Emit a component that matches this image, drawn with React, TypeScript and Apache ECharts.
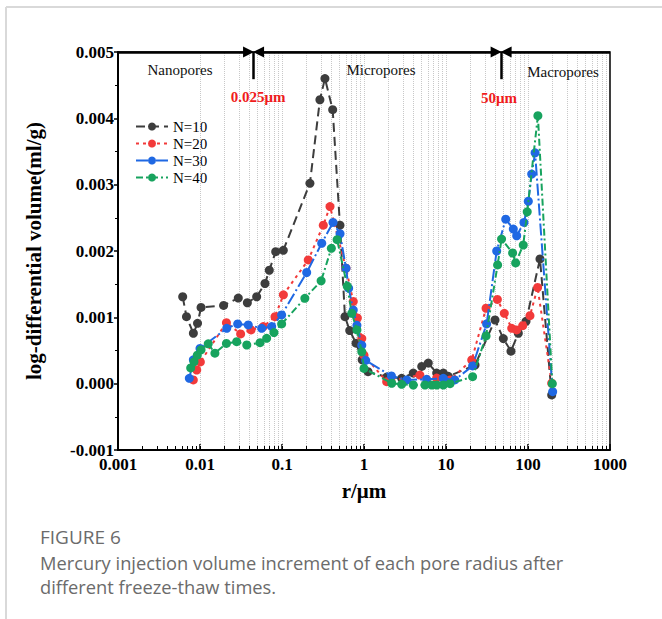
import React, { useEffect, useRef } from 'react';
import * as echarts from 'echarts';

// ---- data (r in μm, volume in ml/g) ----
const n10X = [0.00615, 0.00684, 0.0083, 0.00933, 0.0103, 0.0194, 0.0293, 0.0378, 0.0491, 0.062, 0.07, 0.0838, 0.1037, 0.219, 0.29, 0.334, 0.415, 0.509, 0.586, 0.67, 0.8, 0.95, 1.12, 1.89, 2.88, 3.99, 5.06, 6.08, 7.7, 9.27, 10.67, 22.6, 39.6, 50.0, 62.0, 76.2, 94.6, 140, 194.5];
const n10Y = [0.00131, 0.00101, 0.00076, 0.00091, 0.00115, 0.00118, 0.00129, 0.00122, 0.00131, 0.00151, 0.00171, 0.00199, 0.00201, 0.00302, 0.00428, 0.0046, 0.00413, 0.00239, 0.00101, 0.0008, 0.00061, 0.00036, 0.00018, 0.0001, 0.00008, 0.00016, 0.00026, 0.00031, 0.00016, 0.00016, 0.00011, 0.00028, 0.00096, 0.00068, 0.00049, 0.00076, 0.00094, 0.00188, -0.00017];

const n20X = [0.00829, 0.00912, 0.0101, 0.021, 0.0313, 0.0419, 0.0592, 0.0822, 0.104, 0.209, 0.319, 0.385, 0.603, 0.74, 0.83, 0.94, 1.0, 1.89, 4.8, 7.7, 11.2, 20.6, 30.8, 42.3, 51.4, 63.3, 72.8, 86.1, 105.7, 131, 194.5];
const n20Y = [0.000056, 0.000206, 0.000327, 0.00092, 0.00075, 0.00081, 0.00086, 0.00101, 0.00134, 0.001865, 0.00239, 0.00267, 0.00174, 0.00124, 0.00099, 0.00068, 0.00043, 0.00003, 0.00013, 0.000085, 0.000056, 0.000357, 0.001137, 0.00127, 0.00106, 0.000835, 0.00081, 0.000874, 0.001025, 0.00145, 0.000006];

const n30X = [0.00741, 0.0083, 0.01, 0.0212, 0.0288, 0.0388, 0.0565, 0.0748, 0.099, 0.2, 0.305, 0.419, 0.51, 0.603, 0.65, 0.74, 0.82, 0.94, 1.05, 2.16, 3.33, 5.8, 9.27, 12.8, 21.1, 31.3, 41.5, 53.5, 66.2, 72.8, 89.3, 100.9, 111, 122, 200];
const n30Y = [0.00008, 0.00036, 0.00053, 0.000835, 0.0009, 0.000885, 0.000835, 0.00086, 0.001036, 0.001676, 0.002117, 0.00243, 0.00226, 0.00174, 0.00144, 0.00111, 0.00088, 0.00058, 0.00035, 0.000116, 0.000056, 0.000066, 0.00008, 0.000056, 0.000267, 0.0009, 0.002, 0.00248, 0.00233, 0.00223, 0.00243, 0.00275, 0.00316, 0.00348, -0.00012];

const n40X = [0.0077, 0.00845, 0.00927, 0.0103, 0.0126, 0.0152, 0.021, 0.028, 0.0372, 0.054, 0.065, 0.0798, 0.099, 0.19, 0.3, 0.4, 0.47, 0.625, 0.71, 0.82, 0.94, 1.0, 2.18, 2.88, 3.99, 5.54, 6.7, 7.7, 9.27, 11.2, 21.1, 30.8, 42.6, 47.6, 64.9, 70.7, 87.5, 97.8, 132, 198];
const n40Y = [0.000237, 0.00033, 0.00043, 0.00051, 0.0006, 0.00046, 0.000606, 0.000633, 0.000583, 0.000618, 0.000684, 0.00077, 0.0009, 0.001287, 0.00155, 0.00204, 0.00217, 0.00147, 0.00106, 0.00081, 0.00048, 0.00023, 0.000006, -0.00001, -0.00002, -0.00002, -0.00002, -0.00002, -0.00002, 0.0, 0.000105, 0.00072, 0.00179, 0.00218, 0.00197, 0.00182, 0.00209, 0.00259, 0.00404, 0.0];

const seriesNames = ['N=10', 'N=20', 'N=30', 'N=40'];
const seriesColors = ['#3d3d3d', '#f23a3a', '#1f68e3', '#17a35e'];
const xTickLabels = ['0.001', '0.01', '0.1', '1', '10', '100', '1000'];
const yTickLabels = ['-0.001', '0.000', '0.001', '0.002', '0.003', '0.004', '0.005'];
const boundaryValues = [0.045, 47];
const boundaryLabels = ['0.025μm', '50μm'];
const classLabels = ['Nanopores', 'Micropores', 'Macropores'];

const SERIF = '"Liberation Serif", "Times New Roman", serif';
const SANS = '"Open Sans", "Noto Sans", sans-serif';

export default function App() {
  const ref = useRef<HTMLDivElement>(null);

  useEffect(() => {
    if (!ref.current) return;
    const chart = echarts.init(ref.current, undefined, { renderer: 'svg' });

    // log grid positions 1..9 x 10^k
    const gridVals: number[] = [];
    for (let k = -3; k <= 2; k++) {
      for (let m = 2; m <= 10; m++) {
        const v = Number((m * Math.pow(10, k)).toPrecision(3));
        if (v < 1000) gridVals.push(v);
      }
    }
    const arrowShift = Math.pow(10, 5 / 82);

    const dashes: any[] = [[9, 5], [3, 4], [12, 3, 2, 3], [7, 3, 2, 3]];
    const xs = [n10X, n20X, n30X, n40X];
    const ys = [n10Y, n20Y, n30Y, n40Y];

    const dataSeries = seriesNames.map((name, i) => ({
      type: 'line',
      name,
      data: xs[i].map((x, j) => [x, ys[i][j]]),
      symbol: 'circle',
      symbolSize: 9,
      itemStyle: { color: seriesColors[i] },
      lineStyle: { color: seriesColors[i], width: 2, type: dashes[i] },
      z: 10 + i,
    }));

    const option: any = {
      animation: false,
      backgroundColor: '#fff',
      grid: { left: 118, right: 52, top: 52, bottom: 169, show: true, borderColor: '#000', borderWidth: 1.5 },
      legend: {
        orient: 'vertical',
        left: 130,
        top: 114,
        itemWidth: 32,
        itemHeight: 10,
        itemGap: 2,
        data: seriesNames,
        textStyle: { fontFamily: SERIF, fontSize: 15, color: '#000', lineHeight: 15 },
      },
      xAxis: {
        type: 'log',
        logBase: 10,
        min: 0.001,
        max: 1000,
        name: 'r/μm',
        nameLocation: 'middle',
        nameGap: 30,
        nameTextStyle: { fontFamily: SERIF, fontWeight: 'bold', fontSize: 21, color: '#000' },
        axisLine: { show: true, onZero: false, lineStyle: { color: '#000', width: 2 } },
        axisTick: { show: true, inside: true, length: 6, lineStyle: { color: '#000', width: 1.5 } },
        splitLine: { show: false },
        axisLabel: {
          fontFamily: SERIF, fontWeight: 'bold', fontSize: 17, color: '#000', margin: 6,
          formatter: (v: number) => xTickLabels[Math.round(Math.log10(v)) + 3],
        },
      },
      yAxis: {
        type: 'value',
        min: -0.001,
        max: 0.005,
        interval: 0.001,
        name: 'log-differential volume(ml/g)',
        nameLocation: 'middle',
        nameGap: 74,
        nameTextStyle: { fontFamily: SERIF, fontWeight: 'bold', fontSize: 21, color: '#000' },
        axisLine: { show: true, onZero: false, lineStyle: { color: '#000', width: 2 } },
        axisTick: { show: true, inside: false, length: 4, lineStyle: { color: '#000', width: 1.5 } },
        minorTick: { show: true, splitNumber: 2, length: 3, lineStyle: { color: '#000' } },
        splitLine: { show: false },
        axisLabel: {
          fontFamily: SERIF, fontWeight: 'bold', fontSize: 17, color: '#000', margin: 4,
          formatter: (v: number) => yTickLabels[Math.round((v + 0.001) / 0.001)],
        },
      },
      series: [
        {
          type: 'line',
          data: [],
          silent: true,
          z: 1,
          markLine: {
            silent: true,
            symbol: 'none',
            label: { show: false },
            lineStyle: { type: 'dotted', color: '#c8c8c8', width: 1 },
            data: gridVals.map((v) => ({ xAxis: v })),
          },
        },
        {
          type: 'line',
          data: [],
          silent: true,
          z: 2,
          markLine: {
            silent: true,
            symbol: 'none',
            label: { show: false },
            lineStyle: { type: 'solid', color: '#000', width: 1 },
            data: gridVals.map((v) => [{ coord: [v, -0.001] }, { coord: [v, -0.00094] }]),
          },
        },
        ...dataSeries,
        {
          type: 'line',
          data: [],
          silent: true,
          z: 20,
          markLine: {
            silent: true,
            symbol: 'none',
            symbolSize: 11,
            label: { show: false },
            lineStyle: { type: 'solid', color: '#000', width: 2.5 },
            data: [
              [{ coord: [0.001, 0.005], symbol: 'none' }, { coord: [boundaryValues[0] / arrowShift, 0.005], symbol: 'triangle' }],
              [{ coord: [boundaryValues[0] * arrowShift, 0.005], symbol: 'triangle' }, { coord: [boundaryValues[1] / arrowShift, 0.005], symbol: 'triangle' }],
              [{ coord: [boundaryValues[1] * arrowShift, 0.005], symbol: 'triangle' }, { coord: [1000, 0.005], symbol: 'none' }],
              [{ coord: [boundaryValues[0], 0.005], symbol: 'none' }, { coord: [boundaryValues[0], 0.00459], symbol: 'none' }],
              [{ coord: [boundaryValues[1], 0.005], symbol: 'none' }, { coord: [boundaryValues[1], 0.00459], symbol: 'none' }],
            ],
          },
        },
      ],
      graphic: [
        { type: 'line', shape: { x1: 6, y1: 7, x2: 662, y2: 7 }, style: { stroke: '#d9d9d9', lineWidth: 2 } },
        { type: 'line', shape: { x1: 6, y1: 7, x2: 6, y2: 619 }, style: { stroke: '#d9d9d9', lineWidth: 2 } },
        ...[[180, 70], [381, 70], [563, 72]].map((p, i) => ({
          type: 'text', x: p[0], y: p[1], z: 30,
          style: { text: classLabels[i], fill: '#111', font: `15px ${SERIF}`, align: 'center', verticalAlign: 'middle', textAlign: 'center', textVerticalAlign: 'middle' },
        })),
        ...[[258, 97], [499, 98]].map((p, i) => ({
          type: 'text', x: p[0], y: p[1], z: 30,
          style: { text: boundaryLabels[i], fill: '#f01c1c', font: `bold 15px ${SERIF}`, align: 'center', verticalAlign: 'middle', textAlign: 'center', textVerticalAlign: 'middle' },
        })),
        {
          type: 'text', x: 40, y: 537,
          style: { text: 'FIGURE 6', fill: '#6b6b6b', font: `19px ${SANS}`, align: 'left', verticalAlign: 'middle', textAlign: 'left', textVerticalAlign: 'middle' },
        },
        {
          type: 'text', x: 40, y: 562,
          style: { text: 'Mercury injection volume increment of each pore radius after', fill: '#6b6b6b', font: `18.3px ${SANS}`, align: 'left', verticalAlign: 'middle', textAlign: 'left', textVerticalAlign: 'middle' },
        },
        {
          type: 'text', x: 40, y: 586,
          style: { text: 'different freeze-thaw times.', fill: '#6b6b6b', font: `18.3px ${SANS}`, align: 'left', verticalAlign: 'middle', textAlign: 'left', textVerticalAlign: 'middle' },
        },
      ],
    };

    chart.setOption(option);
    return () => chart.dispose();
  }, []);

  return <div ref={ref} style={{ position: 'absolute', left: 0, top: 0, width: 662, height: 619 }} />;
}
